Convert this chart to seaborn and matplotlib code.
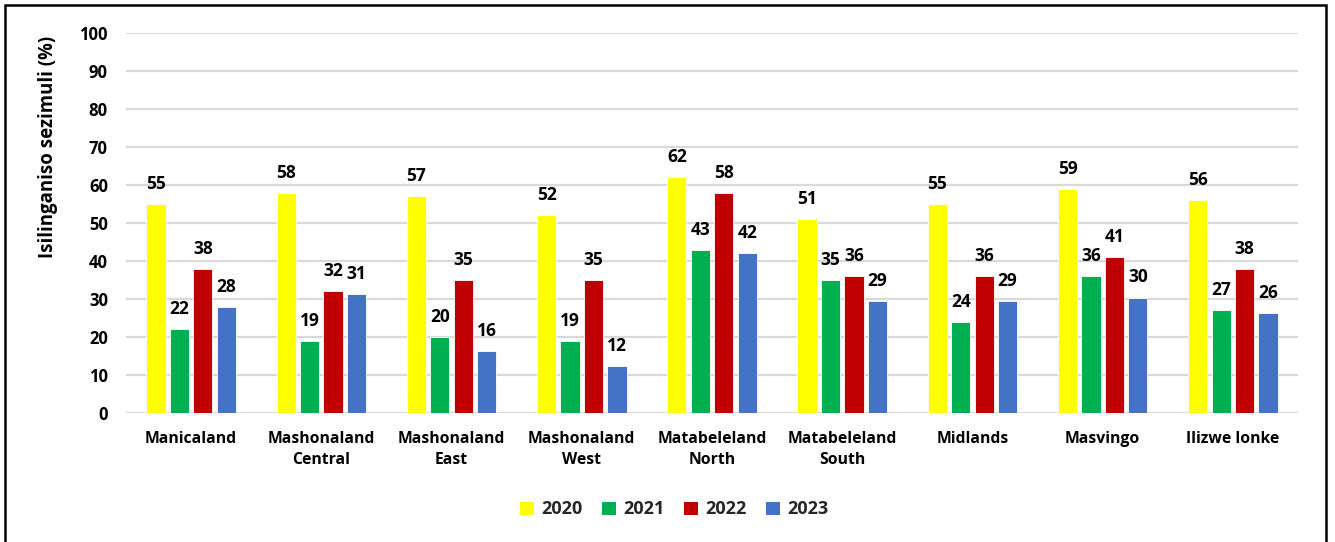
import matplotlib
matplotlib.use("Agg")
import matplotlib.pyplot as plt
import seaborn as sns
import pandas as pd
from matplotlib.patches import Rectangle, Patch

categories = ["Manicaland", "Mashonaland\nCentral", "Mashonaland\nEast", "Mashonaland\nWest",
              "Matabeleland\nNorth", "Matabeleland\nSouth", "Midlands", "Masvingo", "Ilizwe lonke"]
years = ["2020", "2021", "2022", "2023"]
v2020 = [55, 58, 57, 52, 62, 51, 55, 59, 56]
v2021 = [22, 19, 20, 19, 43, 35, 24, 36, 27]
v2022 = [38, 32, 35, 35, 58, 36, 36, 41, 38]
v2023 = [27.9, 31.4, 16.4, 12.4, 42.2, 29.4, 29.4, 30.4, 26.2]
colors = ["#FFFF00", "#00B050", "#C00000", "#4472C4"]
ylabel = "Isilinganiso sezimuli (%)"

rows = []
for yr, vals in zip(years, [v2020, v2021, v2022, v2023]):
    for c, v in zip(categories, vals):
        rows.append({"Region": c, "Year": yr, "Value": v})
df = pd.DataFrame(rows)

sns.set_theme(style="white")
plt.rcParams['font.family'] = ['Open Sans', 'DejaVu Sans']

fig = plt.figure(figsize=(13.35, 5.42), dpi=100)
ax = fig.add_axes([0.0944, 0.238, 0.8779, 0.701])

sns.barplot(data=df, x="Region", y="Value", hue="Year", palette=colors,
            order=categories, hue_order=years, width=0.72, gap=0.18,
            ax=ax, legend=False, errorbar=None, saturation=1,
            edgecolor="white", linewidth=0.6)

for cont in ax.containers:
    labels = [f"{round(b.get_height()):d}" for b in cont]
    ax.bar_label(cont, labels=labels, padding=8, fontsize=12.5, fontweight="bold", color="black")

ax.set_ylim(0, 100)
ax.set_xlim(-0.5, len(categories) - 0.5)
ax.set_yticks(range(0, 101, 10))
ax.yaxis.grid(True, color="#D9D9D9", linewidth=1.6)
ax.set_axisbelow(True)
for s in ax.spines.values():
    s.set_visible(False)
ax.tick_params(axis="y", length=0, pad=13, labelsize=12)
ax.tick_params(axis="x", length=0, pad=13, labelsize=11.3)
for t in ax.get_yticklabels() + ax.get_xticklabels():
    t.set_fontweight("bold")
    t.set_color("black")
    t.set_linespacing(1.45)
ax.set_xlabel("")
ax.set_ylabel(ylabel, fontsize=13.4, fontweight="bold", color="black")
ax.yaxis.set_label_coords(-0.0666, 0.70)
ax.yaxis.label.set_verticalalignment("center")

handles = [Patch(facecolor=c, edgecolor="none") for c in colors]
fig.legend(handles, years, loc="center", bbox_to_anchor=(0.505, 0.06), ncol=4, frameon=False,
           prop={"weight": "bold", "size": 13}, handlelength=0.75, handleheight=0.75,
           handletextpad=0.4, columnspacing=1.1)

fig.patches.append(Rectangle((5 / 1335, -0.05), 1321 / 1335, 1 - 5 / 542 + 0.05,
                             transform=fig.transFigure, fill=False, edgecolor="black",
                             linewidth=1.8, zorder=10))

fig.savefig("out.png", dpi=100, facecolor="white")
